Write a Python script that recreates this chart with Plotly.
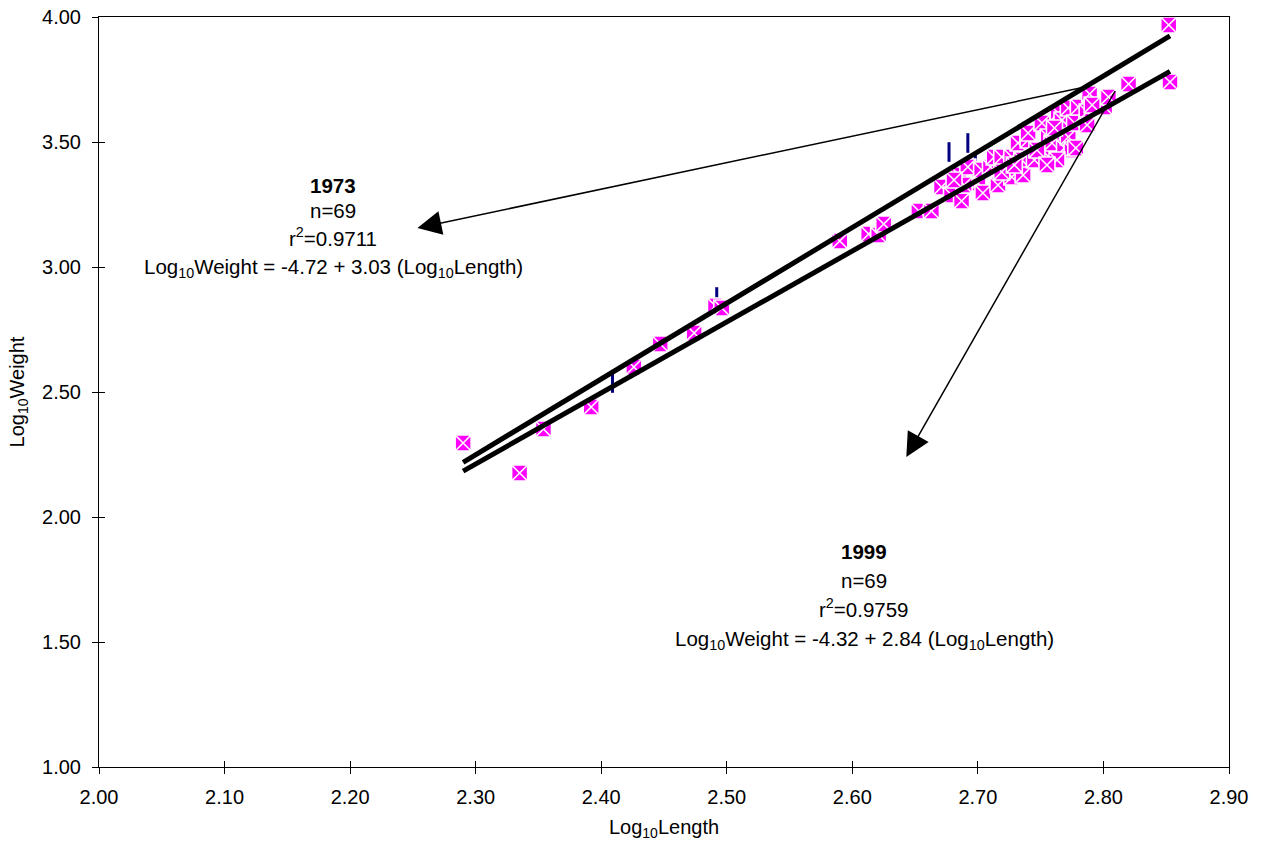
import plotly.graph_objects as go

# Length-weight data (log10 transformed)
len_1999 = [2.290, 2.335, 2.354, 2.392, 2.426, 2.447, 2.474, 2.491, 2.496, 2.590,
            2.613, 2.621, 2.625, 2.653, 2.663, 2.671, 2.679, 2.687, 2.685, 2.692,
            2.700, 2.704, 2.703, 2.710, 2.713, 2.716, 2.719, 2.727, 2.727, 2.732,
            2.735, 2.740, 2.740, 2.751, 2.751, 2.756, 2.759, 2.764, 2.767, 2.769,
            2.772, 2.772, 2.775, 2.777, 2.780, 2.778, 2.789, 2.801, 2.804, 2.820,
            2.852, 2.853, 2.736, 2.745, 2.787, 2.719, 2.729, 2.747, 2.761, 2.787,
            2.791, 2.763, 2.755, 2.689, 2.681]
wt_1999 = [2.296, 2.176, 2.352, 2.440, 2.600, 2.692, 2.736, 2.844, 2.836, 3.104,
           3.132, 3.128, 3.172, 3.224, 3.224, 3.320, 3.288, 3.264, 3.368, 3.400,
           3.336, 3.296, 3.388, 3.400, 3.440, 3.328, 3.440, 3.360, 3.440, 3.496,
           3.428, 3.508, 3.536, 3.576, 3.468, 3.520, 3.496, 3.616, 3.588, 3.476,
           3.636, 3.520, 3.468, 3.576, 3.640, 3.476, 3.692, 3.640, 3.680, 3.732,
           3.968, 3.740, 3.368, 3.428, 3.620, 3.380, 3.408, 3.468, 3.556, 3.568,
           3.648, 3.428, 3.408, 3.328, 3.348]

len_1973 = [2.409, 2.492, 2.677, 2.692, 2.698, 2.709]
wt_1973 = [2.536, 2.880, 3.460, 3.496, 3.416, 3.400]

# Regression fits: Log10Weight = a + b * Log10Length
fit_1973 = (-4.72, 3.03)
fit_1999 = (-4.32, 2.84)
fit_range = [2.29, 2.853]

x_ticks = [2.0, 2.1, 2.2, 2.3, 2.4, 2.5, 2.6, 2.7, 2.8, 2.9]
y_ticks = [1.0, 1.5, 2.0, 2.5, 3.0, 3.5, 4.0]

FONT = "Arial, Liberation Sans, sans-serif"
FS_TICK = 20
FS_TEXT = 20.5

fig = go.Figure()

fig.add_trace(go.Scatter(
    x=len_1973, y=wt_1973, mode="markers", name="1973",
    marker=dict(symbol="line-ns", size=14, color="#000080",
                line=dict(color="#000080", width=3)),
))
fig.add_trace(go.Scatter(
    x=len_1999, y=wt_1999, mode="markers", name="1999",
    marker=dict(symbol="square-x", size=16, color="#FF00FF",
                line=dict(color="white", width=1.6)),
))

for a, b in (fit_1973, fit_1999):
    fig.add_trace(go.Scatter(
        x=fit_range, y=[a + b * v for v in fit_range], mode="lines",
        line=dict(color="black", width=5), hoverinfo="skip",
    ))

# invisible trace so the overlay axes (inner half of the cross ticks) render
fig.add_trace(go.Scatter(x=[2.0], y=[1.0], xaxis="x2", yaxis="y2",
                         mode="markers", marker=dict(opacity=0),
                         hoverinfo="skip"))

axis_common = dict(showgrid=False, zeroline=False, linecolor="black",
                   linewidth=1, tickcolor="black", ticklen=6, tickwidth=1,
                   automargin=False,
                   tickfont=dict(family=FONT, size=FS_TICK, color="black"))

fig.update_layout(
    template="none",
    width=1262, height=844,
    margin=dict(l=99, r=33, t=17, b=77),
    paper_bgcolor="white", plot_bgcolor="white",
    showlegend=False,
    font=dict(family=FONT, size=FS_TICK, color="black"),
    xaxis=dict(range=[2.0, 2.9], tickvals=x_ticks,
               ticktext=[f"{v:.2f}" for v in x_ticks], ticks="outside",
               showline=True, mirror=True, ticklabelstandoff=6,
               title=dict(text="Log<sub>10</sub>Length",
                          font=dict(family=FONT, size=FS_TICK), standoff=12),
               **axis_common),
    yaxis=dict(range=[1.0, 4.0], tickvals=y_ticks,
               ticktext=[f"{v:.2f}" for v in y_ticks], ticks="outside",
               showline=True, mirror=True, ticklabelstandoff=7,
               title=dict(text="Log<sub>10</sub>Weight",
                          font=dict(family=FONT, size=FS_TICK), standoff=12),
               **axis_common),
    xaxis2=dict(range=[2.0, 2.9], tickvals=x_ticks, ticks="inside",
                overlaying="x", anchor="y", side="bottom", automargin=False,
                showticklabels=False, showline=False, showgrid=False,
                zeroline=False, ticklen=6, tickcolor="black"),
    yaxis2=dict(range=[1.0, 4.0], tickvals=y_ticks, ticks="inside",
                overlaying="y", anchor="x", side="left", automargin=False,
                showticklabels=False, showline=False, showgrid=False,
                zeroline=False, ticklen=6, tickcolor="black"),
)

# Arrows from the fitted lines to the summary text
arrows = [
    dict(x=2.2536, y=3.156, ax=2.7855, ay=fit_1973[0] + fit_1973[1] * 2.7855),
    dict(x=2.643, y=2.24, ax=2.81, ay=3.71),
]
for a in arrows:
    fig.add_annotation(x=a["x"], y=a["y"], ax=a["ax"], ay=a["ay"],
                       xref="x", yref="y", axref="x", ayref="y",
                       text="", showarrow=True, arrowhead=2, arrowsize=3.2,
                       arrowwidth=1.5, arrowcolor="black")

blocks = [
    (2.1866, [3.328, 3.228, 3.12, 2.996],
     ["<b>1973</b>", "n=69", "r<sup>2</sup>=0.9711",
      "Log<sub>10</sub>Weight = -4.72 + 3.03 (Log<sub>10</sub>Length)"]),
    (2.6094, [1.864, 1.748, 1.636, 1.508],
     ["<b>1999</b>", "n=69", "r<sup>2</sup>=0.9759",
      "Log<sub>10</sub>Weight = -4.32 + 2.84 (Log<sub>10</sub>Length)"]),
]
for xc, ys, lines in blocks:
    for yv, txt in zip(ys, lines):
        fig.add_annotation(x=xc, y=yv, xref="x", yref="y", text=txt,
                           showarrow=False, xanchor="center", yanchor="middle",
                           font=dict(family=FONT, size=FS_TEXT, color="black"))

fig.write_html("out.html")
